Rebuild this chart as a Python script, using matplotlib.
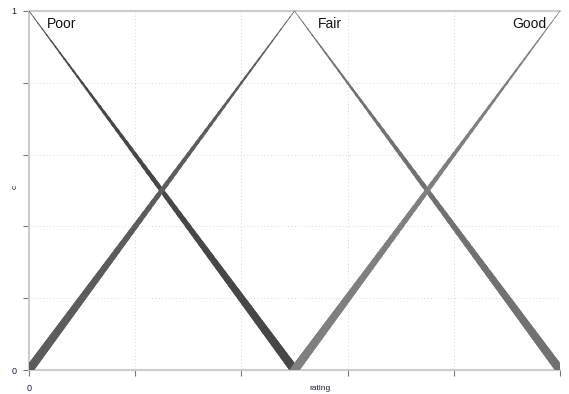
import numpy as np
import matplotlib
matplotlib.use("Agg")
import matplotlib.pyplot as plt
from matplotlib.collections import LineCollection

# membership functions sampled at the breakpoints of the rating scale
rating = [0, 5, 10]
poor = [1, 0, 0]
fair = [0, 1, 0]
good = [0, 0, 1]
labels = ["Poor", "Fair", "Good"]
label_x = [0.34, 5.44, 9.1]
xticks = [0, 2, 4, 6, 8, 10]
yticks = [0, 0.2, 0.4, 0.6, 0.8, 1]

# grey per half of the scale (left half darker)
seg_colors = {"Poor": ["#474747", "#474747"],
              "Fair": ["#5c5c5c", "#717171"],
              "Good": ["#7f7f7f", "#7f7f7f"]}

plt.rcParams["font.family"] = ["Liberation Sans", "DejaVu Sans"]
fig = plt.figure(figsize=(5.69, 3.94), dpi=100)
ax = fig.add_axes([29 / 569, 24 / 394, 531 / 569, 359 / 394])


def ribbon(ax, xs, ys, colors, n=60):
    # line whose width grows as membership drops: thin at 1, thick at 0
    for i in range(len(xs) - 1):
        if ys[i] == ys[i + 1]:
            continue  # flat zero parts are not drawn
        t = np.linspace(0, 1, n + 1)
        px = xs[i] + (xs[i + 1] - xs[i]) * t
        py = ys[i] + (ys[i + 1] - ys[i]) * t
        pts = np.column_stack([px, py])
        segs = np.stack([pts[:-1], pts[1:]], axis=1)
        mid = (py[:-1] + py[1:]) / 2
        lw = 0.5 + 5.6 * (1 - mid)
        lc = LineCollection(segs, linewidths=lw, colors=colors[i],
                            capstyle="projecting", zorder=3)
        ax.add_collection(lc)


for name, ys in zip(labels, [poor, fair, good]):
    ribbon(ax, rating, ys, seg_colors[name])

for name, x in zip(labels, label_x):
    ax.text(x, 0.965, name, fontsize=10, ha="left", va="center", color="#111111", zorder=4)

ax.set_xlim(0, 10)
ax.set_ylim(0, 1)
ax.set_xticks(xticks)
ax.set_xticklabels(["0"] + [""] * (len(xticks) - 1))
ax.set_yticks(yticks)
ax.set_yticklabels(["0"] + [""] * (len(yticks) - 2) + ["1"])
ax.tick_params(axis="both", length=4, width=0.8, color="#777777", labelsize=6.5,
               labelcolor="#1a1a40")
ax.tick_params(axis="x", pad=6)
ax.tick_params(axis="y", pad=5)
ax.grid(True, linestyle=(0, (1, 2.5)), color="#d8d8d8", linewidth=0.7, zorder=0)
for side in ["left", "top", "bottom"]:
    ax.spines[side].set_color("#cccccc")
    ax.spines[side].set_linestyle((0, (0.8, 0.8)))
    ax.spines[side].set_linewidth(1.5)
ax.spines["right"].set_visible(False)

fig.text(320 / 569, 1 - 388 / 394, "rating", fontsize=6, ha="center", va="center", color="#1a1a40")
fig.text(15 / 569, 1 - 187 / 394, "c", fontsize=6, ha="center", va="center", rotation=90, color="#1a1a40")

fig.savefig("out.png", dpi=100)
